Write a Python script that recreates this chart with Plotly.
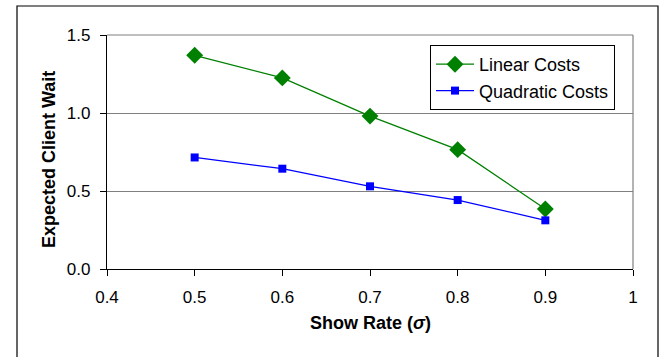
import plotly.graph_objects as go

# Show rate vs. expected client wait for two cost structures
show_rate = [0.5, 0.6, 0.7, 0.8, 0.9]
linear_costs = [1.37, 1.225, 0.98, 0.765, 0.385]
quadratic_costs = [0.715, 0.643, 0.53, 0.442, 0.312]

x_ticks = [0.4, 0.5, 0.6, 0.7, 0.8, 0.9, 1.0]
x_tick_text = ["0.4", "0.5", "0.6", "0.7", "0.8", "0.9", "1"]
y_ticks = [0.0, 0.5, 1.0, 1.5]
y_tick_text = ["0.0", "0.5", "1.0", "1.5"]

W, H = 666, 357
ML, MR, MT, MB = 107, 33, 35, 88
PW, PH = W - ML - MR, H - MT - MB

font = "Liberation Sans, Arial, sans-serif"

fig = go.Figure()
fig.add_trace(go.Scatter(
    x=show_rate, y=linear_costs, name="Linear Costs",
    mode="lines+markers", legendgroup="linear",
    line=dict(color="#008000", width=1.3),
    marker=dict(symbol="diamond", size=13, color="#008000"),
))
fig.add_trace(go.Scatter(
    x=show_rate, y=quadratic_costs, name="Quadratic Costs",
    mode="lines+markers", legendgroup="quadratic",
    line=dict(color="#0000FF", width=1.3),
    marker=dict(symbol="square", size=8, color="#0000FF"),
))


def px_x(p):
    return (p - ML) / PW


def px_y(p):
    return (H - MB - p) / PH


# outer chart frame
fig.add_shape(type="rect", xref="paper", yref="paper",
              x0=px_x(17), x1=px_x(658), y0=px_y(362), y1=px_y(6),
              line=dict(color="black", width=1.2), fillcolor="rgba(0,0,0,0)",
              layer="below")

# right and top frame of the plot area
fig.add_shape(type="line", xref="paper", yref="paper", x0=1, x1=1, y0=0, y1=1,
              line=dict(color="#808080", width=1.2))
fig.add_shape(type="line", xref="paper", yref="paper", x0=0, x1=1, y0=1, y1=1,
              line=dict(color="#808080", width=1.2))

# axis titles
fig.add_annotation(text="<b>Expected Client Wait</b>", xref="paper", yref="paper",
                   x=px_x(49), y=px_y(160), textangle=-90, showarrow=False,
                   xanchor="center", yanchor="middle", font=dict(size=18))
fig.add_annotation(text="<b>Show Rate (<i>σ</i>)</b>", xref="paper", yref="paper",
                   x=px_x(370), y=px_y(323), showarrow=False,
                   xanchor="center", yanchor="middle", font=dict(size=18))

fig.update_layout(
    width=W, height=H,
    margin=dict(l=ML, r=MR, t=MT, b=MB, pad=0),
    paper_bgcolor="white", plot_bgcolor="white",
    font=dict(family=font, size=17, color="black"),
    showlegend=True,
    legend=dict(
        x=px_x(430), y=px_y(45), xanchor="left", yanchor="top",
        bgcolor="white", bordercolor="black", borderwidth=1,
        font=dict(size=18, family=font),
        itemwidth=38, tracegroupgap=0,
    ),
    xaxis=dict(
        range=[0.4, 1.0], tickvals=x_ticks, ticktext=x_tick_text,
        showgrid=False, zeroline=False,
        showline=True, linecolor="black", linewidth=1.2,
        ticks="outside", ticklen=6, tickcolor="black",
        tickfont=dict(size=17), ticklabelstandoff=6,
    ),
    yaxis=dict(
        range=[0.0, 1.5], tickvals=y_ticks, ticktext=y_tick_text,
        showgrid=True, gridcolor="#808080", gridwidth=1.2,
        zeroline=False,
        showline=True, linecolor="black", linewidth=1.2,
        ticks="outside", ticklen=6, tickcolor="black",
        tickfont=dict(size=17), ticklabelstandoff=6,
    ),
)

fig.write_html("out.html")
